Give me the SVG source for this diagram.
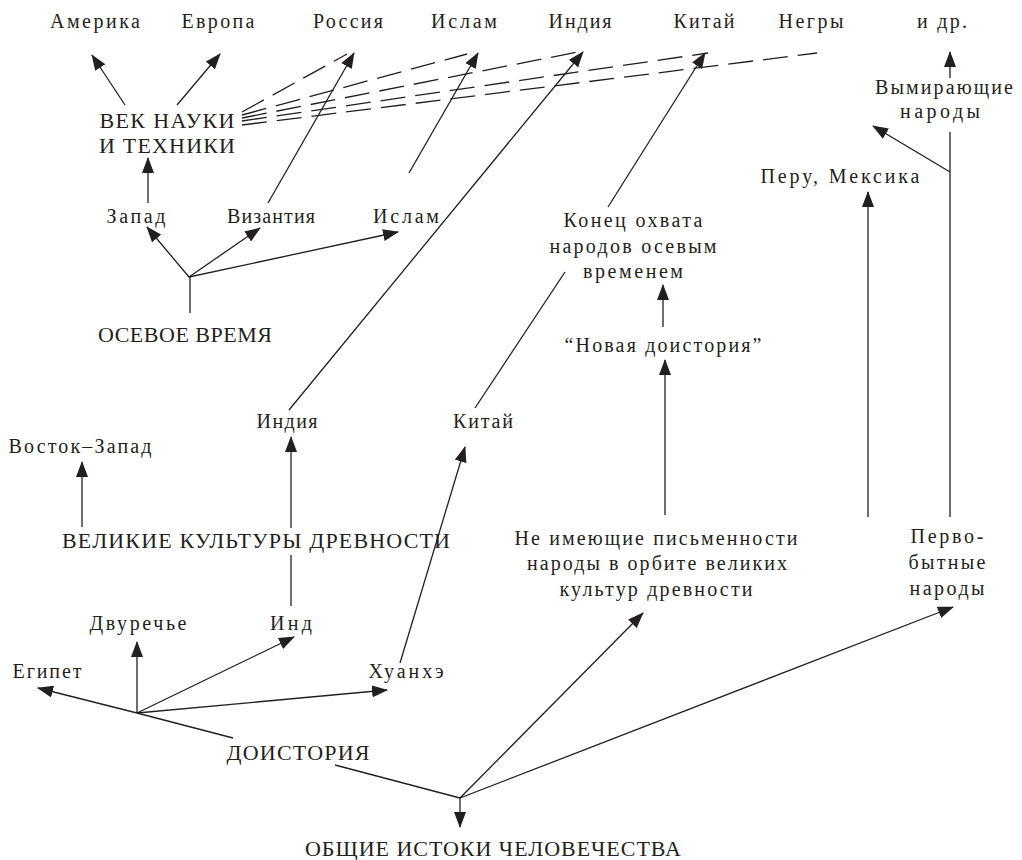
<svg xmlns="http://www.w3.org/2000/svg" width="1022" height="860" viewBox="0 0 1022 860">
<style>
text{font-family:"Liberation Serif","Times New Roman",serif;fill:#231f20;text-anchor:middle}
.l{font-size:20px}
.u{font-size:22px}
.c line{stroke:#231f20;stroke-width:1.3;fill:none}
.c line.a{marker-end:url(#ah)}
.c line.d{stroke-dasharray:25 10}
</style>
<defs>
<marker id="ah" markerUnits="userSpaceOnUse" viewBox="0 0 16 12" refX="15" refY="6" markerWidth="16" markerHeight="12" orient="auto">
<path d="M0,0 L16,6 L0,12 Z" fill="#231f20"/>
</marker>
</defs>
<rect width="1022" height="860" fill="#fff"/>
<g class="c" id="connectors">
<line class="a" x1="125" y1="105" x2="92" y2="55"/>
<line class="a" x1="177" y1="105" x2="220" y2="54"/>
<line class="a" x1="148" y1="203" x2="148" y2="158"/>
<line class="a" x1="268" y1="203" x2="354" y2="53"/>
<line class="a" x1="409" y1="173" x2="478" y2="53"/>
<line class="a" x1="289" y1="410" x2="583" y2="52"/>
<line class="a" x1="608" y1="207" x2="705" y2="53"/>
<line class="a" x1="189" y1="277" x2="147" y2="227"/>
<line class="a" x1="189" y1="277" x2="260" y2="228"/>
<line class="a" x1="189" y1="277" x2="398" y2="232"/>
<line x1="190" y1="277" x2="190" y2="313"/>
<line class="a" x1="950" y1="78" x2="950" y2="52"/>
<line x1="950" y1="132" x2="950" y2="517"/>
<line class="a" x1="950" y1="172" x2="873" y2="126"/>
<line class="a" x1="868" y1="517" x2="868" y2="192"/>
<line class="a" x1="663" y1="327" x2="663" y2="285"/>
<line class="a" x1="665" y1="515" x2="665" y2="360"/>
<line x1="475" y1="408" x2="565" y2="272"/>
<line class="a" x1="82" y1="527" x2="82" y2="462"/>
<line class="a" x1="291" y1="528" x2="291" y2="437"/>
<line x1="291" y1="555" x2="291" y2="606"/>
<line class="a" x1="400" y1="663" x2="465" y2="447"/>
<line class="a" x1="137" y1="713" x2="38" y2="688"/>
<line class="a" x1="137" y1="713" x2="137" y2="642"/>
<line class="a" x1="137" y1="713" x2="294" y2="637"/>
<line class="a" x1="137" y1="713" x2="387" y2="690"/>
<line x1="137" y1="713" x2="233" y2="738"/>
<line x1="335" y1="765" x2="460" y2="798"/>
<line class="a" x1="460" y1="798" x2="460" y2="827"/>
<line class="a" x1="460" y1="798" x2="643" y2="613"/>
<line class="a" x1="460" y1="798" x2="953" y2="607"/>
<line class="d" x1="242" y1="112" x2="347" y2="54"/>
<line class="d" x1="242" y1="115" x2="467" y2="54"/>
<line class="d" x1="242" y1="118" x2="583" y2="51"/>
<line class="d" x1="242" y1="121" x2="708" y2="53"/>
<line class="d" x1="242" y1="125" x2="817" y2="53"/>
</g>
<g id="n-amerika"><text class="l" x="95" y="28" textLength="90" lengthAdjust="spacing">Америка</text></g>
<g id="n-evropa"><text class="l" x="218" y="28" textLength="73" lengthAdjust="spacing">Европа</text></g>
<g id="n-rossiya"><text class="l" x="348" y="28" textLength="70" lengthAdjust="spacing">Россия</text></g>
<g id="n-islam-top"><text class="l" x="464" y="28" textLength="66" lengthAdjust="spacing">Ислам</text></g>
<g id="n-india-top"><text class="l" x="580" y="28" textLength="63" lengthAdjust="spacing">Индия</text></g>
<g id="n-kitai-top"><text class="l" x="704" y="28" textLength="61" lengthAdjust="spacing">Китай</text></g>
<g id="n-negry"><text class="l" x="811" y="28" textLength="65" lengthAdjust="spacing">Негры</text></g>
<g id="n-i-dr"><text class="l" x="942" y="28" textLength="50" lengthAdjust="spacing">и др.</text></g>
<g id="n-vek-nauki">
<text class="u" x="167" y="128" textLength="135" lengthAdjust="spacing">ВЕК НАУКИ</text>
<text class="u" x="167" y="153" textLength="136" lengthAdjust="spacing">И ТЕХНИКИ</text>
</g>
<g id="n-zapad"><text class="l" x="136" y="223" textLength="59" lengthAdjust="spacing">Запад</text></g>
<g id="n-vizantiya"><text class="l" x="271" y="223" textLength="88" lengthAdjust="spacing">Византия</text></g>
<g id="n-islam-mid"><text class="l" x="406" y="223" textLength="66" lengthAdjust="spacing">Ислам</text></g>
<g id="n-osevoe"><text class="u" x="185" y="342" textLength="174" lengthAdjust="spacing">ОСЕВОЕ ВРЕМЯ</text></g>
<g id="n-vymirayushchie">
<text class="l" x="944" y="94" textLength="138" lengthAdjust="spacing">Вымирающие</text>
<text class="l" x="940" y="118" textLength="80" lengthAdjust="spacing">народы</text>
</g>
<g id="n-peru"><text class="l" x="840" y="183" textLength="159" lengthAdjust="spacing">Перу, Мексика</text></g>
<g id="n-konets">
<text class="l" x="633" y="227" textLength="139" lengthAdjust="spacing">Конец  охвата</text>
<text class="l" x="633" y="253" textLength="167" lengthAdjust="spacing">народов  осевым</text>
<text class="l" x="633" y="278" textLength="100" lengthAdjust="spacing">временем</text>
</g>
<g id="n-novaya"><text class="l" x="663" y="352" textLength="197" lengthAdjust="spacing">“Новая  доистория”</text></g>
<g id="n-india-mid"><text class="l" x="287" y="428" textLength="61" lengthAdjust="spacing">Индия</text></g>
<g id="n-kitai-mid"><text class="l" x="483" y="428" textLength="60" lengthAdjust="spacing">Китай</text></g>
<g id="n-vostok"><text class="l" x="80" y="453" textLength="143" lengthAdjust="spacing">Восток–Запад</text></g>
<g id="n-velikie"><text class="u" x="256" y="548" textLength="388" lengthAdjust="spacing">ВЕЛИКИЕ КУЛЬТУРЫ ДРЕВНОСТИ</text></g>
<g id="n-ne-imeyushchie">
<text class="l" x="656" y="545" textLength="283" lengthAdjust="spacing">Не  имеющие  письменности</text>
<text class="l" x="657" y="570" textLength="260" lengthAdjust="spacing">народы  в  орбите  великих</text>
<text class="l" x="656" y="596" textLength="193" lengthAdjust="spacing">культур  древности</text>
</g>
<g id="n-pervobytnye">
<text class="l" x="947" y="543" textLength="73" lengthAdjust="spacing">Перво-</text>
<text class="l" x="947" y="569" textLength="77" lengthAdjust="spacing">бытные</text>
<text class="l" x="947" y="595" textLength="75" lengthAdjust="spacing">народы</text>
</g>
<g id="n-dvurechye"><text class="l" x="138" y="630" textLength="97" lengthAdjust="spacing">Двуречье</text></g>
<g id="n-ind"><text class="l" x="291" y="630" textLength="42" lengthAdjust="spacing">Инд</text></g>
<g id="n-egipet"><text class="l" x="47" y="678" textLength="69" lengthAdjust="spacing">Египет</text></g>
<g id="n-huanhe"><text class="l" x="406" y="678" textLength="75" lengthAdjust="spacing">Хуанхэ</text></g>
<g id="n-doistoriya"><text class="u" x="298" y="760" textLength="143" lengthAdjust="spacing">ДОИСТОРИЯ</text></g>
<g id="n-obshchie"><text class="u" x="493" y="856" textLength="376" lengthAdjust="spacing">ОБЩИЕ ИСТОКИ ЧЕЛОВЕЧЕСТВА</text></g>
</svg>
